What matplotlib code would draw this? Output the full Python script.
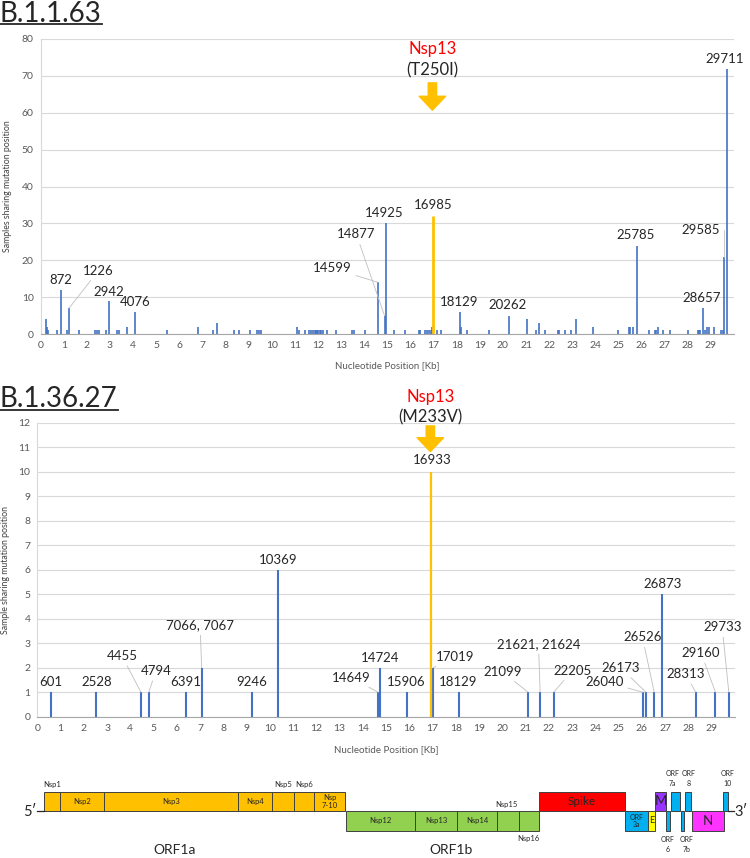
import matplotlib
matplotlib.use("Agg")
import matplotlib.pyplot as plt
from matplotlib.patches import Rectangle
from matplotlib.lines import Line2D

plt.rcParams.update({
    "font.family": ["Lato", "DejaVu Sans"],
    "text.color": "#262626",
})

W, H = 750, 858
BLUE = "#4472C4"
GOLD = "#FFC000"
GRID = "#D9D9D9"
TICK = "#595959"

# ---- B.1.1.63 : mutation position (kb) / samples sharing it ----
pos_b1163 = [0.22, 0.26, 0.32, 0.72, 0.872, 1.12, 1.226, 1.66, 2.34, 2.42, 2.52, 2.81,
             2.942, 3.32, 3.39, 3.75, 4.076, 5.45, 6.81, 7.47, 7.65, 8.37, 8.57, 9.05,
             9.38, 9.45, 9.55, 11.11, 11.16, 11.43, 11.62, 11.70, 11.77, 11.85, 11.92,
             11.97, 12.02, 12.08, 12.15, 12.22, 12.38, 12.78, 13.49, 13.56, 14.02,
             14.599, 14.877, 14.925, 15.30, 15.77, 16.35, 16.42, 16.63, 16.71, 16.81,
             16.88, 16.93, 17.17, 17.32, 18.129, 18.20, 18.44, 19.38, 20.262, 21.05,
             21.42, 21.58, 21.82, 22.37, 22.43, 22.67, 22.96, 23.15, 23.88, 24.96,
             25.45, 25.52, 25.63, 25.785, 26.34, 26.56, 26.63, 26.70, 26.92, 27.25,
             28.02, 28.46, 28.50, 28.55, 28.657, 28.75, 28.82, 28.93, 29.12, 29.44,
             29.51, 29.585, 29.711]
cnt_b1163 = [4, 2, 1, 1, 12, 1, 7, 1, 1, 1, 1, 1,
             9, 1, 1, 2, 6, 1, 2, 1, 3, 1, 1, 1,
             1, 1, 1, 2, 1, 1, 1, 1, 1, 1, 1,
             1, 1, 1, 1, 1, 1, 1, 1, 1, 1,
             14, 5, 30, 1, 1, 1, 1, 1, 1, 1,
             1, 2, 1, 1, 6, 2, 1, 1, 5, 4,
             1, 3, 1, 1, 1, 1, 1, 4, 2, 1,
             2, 2, 2, 24, 1, 1, 1, 2, 1, 1,
             1, 1, 1, 1, 7, 1, 2, 2, 2, 1,
             1, 21, 72]
hl_b1163 = (16.985, 32)

# ---- B.1.36.27 ----
pos_b13627 = [0.601, 2.528, 4.455, 4.794, 6.391, 7.066, 9.246, 10.369, 14.649, 14.724,
              15.906, 17.019, 18.129, 21.099, 21.621, 22.205, 26.040, 26.173, 26.526,
              26.873, 28.313, 29.160, 29.733]
cnt_b13627 = [1, 1, 1, 1, 1, 2, 1, 6, 1, 2,
              1, 2, 1, 1, 1, 1, 1, 1, 1,
              5, 1, 1, 1]
hl_b13627 = (16.933, 10)

# label text, bar it belongs to, text x, text y, leader line?
labels_b1163 = [("872", 0.872, 0.88, 14.6, False), ("1226", 1.226, 2.50, 17.2, True),
                ("2942", 2.942, 2.95, 11.5, False), ("4076", 4.076, 4.08, 8.75, False),
                ("14599", 14.599, 12.63, 17.8, True), ("14877", 14.877, 13.66, 27.0, True),
                ("14925", 14.925, 14.88, 32.7, False), ("16985", 16.985, 16.99, 35.0, False),
                ("18129", 18.129, 18.11, 8.75, False), ("20262", 20.262, 20.21, 7.9, False),
                ("25785", 25.785, 25.76, 26.8, False), ("28657", 28.657, 28.62, 9.8, False),
                ("29585", 29.585, 28.57, 28.2, True), ("29711", 29.711, 29.58, 74.5, False)]
labels_b13627 = [("601", 0.601, 0.60, 1.42, False), ("2528", 2.528, 2.54, 1.42, False),
                 ("4455", 4.455, 3.64, 2.48, True), ("4794", 4.794, 5.10, 1.87, True),
                 ("6391", 6.391, 6.39, 1.42, False), ("7066, 7067", 7.066, 7.00, 3.74, True),
                 ("9246", 9.246, 9.22, 1.42, False), ("10369", 10.369, 10.34, 6.4, False),
                 ("14649", 14.649, 13.52, 1.59, True), ("14724", 14.724, 14.72, 2.4, False),
                 ("15906", 15.906, 15.88, 1.42, False), ("16933", 16.933, 16.97, 10.48, False),
                 ("17019", 17.019, 17.96, 2.44, True), ("18129", 18.129, 18.11, 1.42, False),
                 ("21099", 21.099, 20.00, 1.84, True), ("21621, 21624", 21.621, 21.55, 2.97, True),
                 ("22205", 22.205, 23.01, 1.88, True), ("26040", 26.040, 24.39, 1.43, True),
                 ("26173", 26.173, 25.09, 1.99, True), ("26526", 26.526, 26.02, 3.25, True),
                 ("26873", 26.873, 26.87, 5.42, False), ("28313", 28.313, 27.87, 1.74, True),
                 ("29160", 29.160, 28.54, 2.6, True), ("29733", 29.733, 29.45, 3.66, True)]

# ---- genome map (kb) ----
orf1a_edges = [0.30, 0.98, 2.88, 8.65, 10.11, 11.04, 11.89, 13.25]
orf1a_names = ["", "Nsp2", "Nsp3", "Nsp4", "", "", "Nsp\n7-10"]
orf1b_edges = [13.29, 16.22, 18.06, 19.78, 20.70, 21.56]
orf1b_names = ["Nsp12", "Nsp13", "Nsp14", "", ""]
genes = ["Spike", "ORF\n3a", "E", "M", "ORF6", "ORF7a", "ORF7b", "ORF8", "N", "ORF10"]
gene_start = [21.56, 25.27, 26.28, 26.56, 27.02, 27.25, 27.68, 27.85, 28.14, 29.50]
gene_end = [25.27, 26.28, 26.56, 27.04, 27.22, 27.64, 27.82, 28.11, 29.51, 29.68]
gene_row = ["top", "bottom", "bottom", "top", "bottom", "top", "bottom", "top", "bottom", "top"]
gene_color = ["#FF0000", "#00B0F0", "#FFFF00", "#9933FF", "#00B0F0", "#00B0F0",
              "#00B0F0", "#00B0F0", "#FF33FF", "#00B0F0"]


def fig_rect(left, top, right, bottom):
    return [left / W, 1 - bottom / H, (right - left) / W, (bottom - top) / H]


def style_axes(ax, ymax, ystep, ylabel, xlab_y, ylab_x):
    ax.set_xlim(0, 30)
    ax.set_ylim(0, ymax)
    ax.set_xticks(range(30))
    ax.set_yticks(range(0, ymax + 1, ystep))
    ax.tick_params(length=0, labelsize=7.5, colors=TICK, pad=5)
    ax.grid(axis="y", color=GRID, lw=0.8)
    ax.set_axisbelow(True)
    for s in ["top", "right"]:
        ax.spines[s].set_visible(False)
    ax.spines["left"].set_color(GRID)
    ax.spines["bottom"].set_color("#A6A6A6")
    ax.set_xlabel("Nucleotide Position [Kb]", fontsize=7, color=TICK)
    ax.xaxis.set_label_coords(0.5, xlab_y)
    ax.set_ylabel(ylabel, fontsize=6.3, color="#404040")
    ax.yaxis.set_label_coords(ylab_x, 0.5)


def add_labels(ax, labels, pos, cnt, elbow=None):
    lookup = dict(zip(pos, cnt))
    for txt, bar, tx, ty, leader in labels:
        top = lookup[bar]
        if leader:
            cs = "angle,angleA=0,angleB=90,rad=0" if txt == elbow else "arc3"
            ax.annotate(txt, xy=(bar, top), xytext=(tx, ty), ha="center", va="center",
                        fontsize=9.5, annotation_clip=False,
                        arrowprops=dict(arrowstyle="-", color="#BFBFBF", lw=0.6,
                                        shrinkA=1, shrinkB=0, connectionstyle=cs))
        else:
            ax.text(tx, ty, txt, ha="center", va="center", fontsize=9.5)


def nsp13_marker(ax, x, y_red, y_black, y_tail, y_tip, mut):
    ax.text(x, y_red, "Nsp13", color="#FF0000", ha="center", va="center", fontsize=12, clip_on=False)
    ax.text(x, y_black, mut, ha="center", va="center", fontsize=12, clip_on=False)
    ax.annotate("", xy=(x, y_tip), xytext=(x, y_tail), annotation_clip=False,
                arrowprops=dict(arrowstyle="simple,head_width=1.9,head_length=1.0,tail_width=0.6",
                                color=GOLD, mutation_scale=10, shrinkA=0, shrinkB=0))


fig = plt.figure(figsize=(W / 100, H / 100), dpi=100)

# ---------- panel 1 ----------
ax1 = fig.add_axes(fig_rect(40.7, 39, 734, 334))
style_axes(ax1, 80, 10, "Samples sharing mutation position", -0.0915, -0.042)
ax1.vlines(pos_b1163, 0, cnt_b1163, color=BLUE, lw=1.2)
ax1.vlines([hl_b1163[0]], 0, [hl_b1163[1]], color=GOLD, lw=2.0)
add_labels(ax1, labels_b1163, pos_b1163 + [hl_b1163[0]], cnt_b1163 + [hl_b1163[1]], elbow="29585")
nsp13_marker(ax1, 16.95, 77.2, 71.5, 68.1, 60.7, "(T250I)")

# ---------- panel 2 ----------
ax2 = fig.add_axes(fig_rect(37.3, 422.7, 735, 716.7))
style_axes(ax2, 12, 1, "Sample sharing mutation position", -0.096, -0.0387)
ax2.vlines(pos_b13627, 0, cnt_b13627, color=BLUE, lw=1.5)
ax2.vlines([hl_b13627[0]], 0, [hl_b13627[1]], color=GOLD, lw=1.6)
add_labels(ax2, labels_b13627, pos_b13627 + [hl_b13627[0]], cnt_b13627 + [hl_b13627[1]])
nsp13_marker(ax2, 16.9, 13.06, 12.23, 11.87, 10.82, "(M233V)")

# ---------- titles ----------
for txt, base, uline in [("B.1.1.63", 21.5, 24), ("B.1.36.27", 407, 410)]:
    t = fig.text(0.0, 1 - base / H, txt, fontsize=20, va="baseline", ha="left")
    fig.canvas.draw()
    bb = t.get_window_extent()
    fig.add_artist(Line2D([0, bb.x1 / W], [1 - uline / H] * 2, color="#262626", lw=1.3))

# ---------- genome map ----------
axm = fig.add_axes(fig_rect(37.3, 760, 735, 858))
axm.set_xlim(0, 30)
axm.set_ylim(858, 760)
axm.axis("off")
TOP = (791.7, 811)
BOT = (811, 830.7)
EDGE = "#404040"


def box(x0, x1, row, color, label="", fs=5.5):
    y0, y1 = row
    axm.add_patch(Rectangle((x0, y0), x1 - x0, y1 - y0, facecolor=color, edgecolor=EDGE, lw=0.7,
                            clip_on=False))
    if label:
        axm.text((x0 + x1) / 2, (y0 + y1) / 2, label, ha="center", va="center", fontsize=fs,
                 linespacing=1.1, color="#262626")


for a, b, n in zip(orf1a_edges[:-1], orf1a_edges[1:], orf1a_names):
    box(a, b, TOP, GOLD, n)
for a, b, n in zip(orf1b_edges[:-1], orf1b_edges[1:], orf1b_names):
    box(a, b, BOT, "#92D050", n)

big = {"Spike": 8.5, "M": 9.5, "N": 9.5, "E": 6.5, "ORF\n3a": 5}
for n, a, b, r, c in zip(genes, gene_start, gene_end, gene_row, gene_color):
    inside = n if n in big else ""
    box(a, b, TOP if r == "top" else BOT, c, inside, big.get(n, 5.5))

small = dict(fontsize=5.5, ha="center", va="center", linespacing=1.5, color="#262626")
orf_small = dict(small, fontsize=5.0)
axm.text(0.62, 784, "Nsp1", **small)
axm.text(10.57, 784, "Nsp5", **small)
axm.text(11.47, 784, "Nsp6", **small)
axm.text(20.19, 804, "Nsp15", **small)
axm.text(21.13, 839, "Nsp16", **small)
axm.text(27.30, 779, "ORF\n7a", **orf_small)
axm.text(28.00, 779, "ORF\n8", **orf_small)
axm.text(29.66, 779, "ORF\n10", **orf_small)
axm.text(27.10, 845, "ORF\n6", **orf_small)
axm.text(27.90, 845, "ORF\n7b", **orf_small)

axm.plot([0.0, 0.30], [811, 811], color="#262626", lw=0.9, clip_on=False)
axm.plot([29.68, 29.97], [811, 811], color="#262626", lw=0.9, clip_on=False)
axm.text(-0.31, 811.7, "5\u2032", ha="center", va="center", fontsize=10.5)
axm.text(30.26, 811.7, "3\u2032", ha="center", va="center", fontsize=10.5)
axm.text(5.91, 850.5, "ORF1a", ha="center", va="center", fontsize=10)
axm.text(17.80, 850.5, "ORF1b", ha="center", va="center", fontsize=10)

fig.savefig("out.png", dpi=100)
